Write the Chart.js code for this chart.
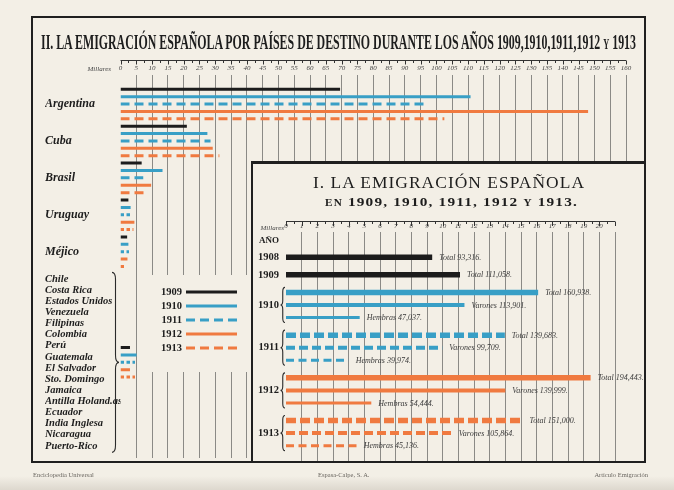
<!DOCTYPE html>
<html><head><meta charset="utf-8">
<script src="https://cdn.jsdelivr.net/npm/chart.js@4.4.1/dist/chart.umd.min.js"></script>
<style>
html,body{margin:0;padding:0;}
body{width:674px;height:490px;position:relative;overflow:hidden;
 background:linear-gradient(to bottom,#f3efe6 0px,#f3efe6 476px,#ddd8ce 490px);
 font-family:"Liberation Serif",serif;color:#1d1d1d;}
#main{position:absolute;left:0;top:0;}
#frame{position:absolute;left:31px;top:16px;width:615px;height:447px;border:2px solid #1f1f1f;box-sizing:border-box;pointer-events:none;}
#insetBox{position:absolute;left:251px;top:161px;width:395px;height:302px;background:#f3efe6;border-top:3px solid #1f1f1f;border-left:2px solid #1f1f1f;box-sizing:border-box;}
#inset{position:absolute;left:0;top:0;}
.t{position:absolute;white-space:nowrap;transform-origin:0 0;line-height:1;}
.foot{position:absolute;top:471px;font-size:6.5px;color:#6a6660;white-space:nowrap;}
</style></head>
<body>
<canvas id="main" width="674" height="490"></canvas>
<div id="t1" class="t" style="left:41px;top:32px;font-size:20px;font-weight:bold;">II. LA EMIGRACIÓN ESPAÑOLA POR PAÍSES DE DESTINO DURANTE LOS AÑOS 1909,1910,1911,1912 <span style="font-size:14px">Y</span> 1913</div>
<div id="insetBox">
 <canvas id="inset" width="391" height="298"></canvas>
 <div id="t2" class="t" style="left:60px;top:10px;font-size:17px;letter-spacing:1px;">I. LA EMIGRACIÓN ESPAÑOLA</div>
 <div id="t3" class="t" style="left:72px;top:31px;font-size:13px;font-weight:bold;letter-spacing:1px;"><span style="font-size:9.5px">EN</span> 1909, 1910, 1911, 1912 <span style="font-size:9.5px">Y</span> 1913.</div>
</div>
<div id="frame"></div>
<div class="foot" style="left:33px;">Enciclopedia Universal</div>
<div class="foot" style="left:318px;">Espasa-Calpe, S. A.</div>
<div class="foot" style="right:26px;">Artículo Emigración</div>
<script>
// ---------- DATA (main chart, thousands of emigrants) ----------
const countries = ['Argentina','Cuba','Brasil','Uruguay','Méjico','Otros'];
const otherCountries = ['Chile','Costa Rica','Estados Unidos','Venezuela','Filipinas','Colombia','Perú','Guatemala','El Salvador','Sto. Domingo','Jamaica','Antilla Holand.as','Ecuador','India Inglesa','Nicaragua','Puerto-Rico'];
const years = ['1909','1910','1911','1912','1913'];
const v1909 = [69.5, 21.0, 6.7, 2.5, 2.1, 3.0];
const v1910 = [110.8, 27.5, 13.3, 3.2, 2.5, 5.1];
const v1911 = [97.4, 28.5, 7.2, 3.5, 2.7, 4.6];
const v1912 = [148.0, 29.2, 9.7, 4.4, 2.2, 3.0];
const v1913 = [102.5, 31.3, 8.8, 4.1, 1.9, 4.6];
const mainTicks = [0,5,10,15,20,25,30,35,40,45,50,55,60,65,70,75,80,85,90,95,100,105,110,115,120,125,130,135,140,145,150,155,160];

// ---------- DATA (inset chart) ----------
const insetYears = ['1908','1909','1910','1911','1912','1913'];
const insetTotal   = [93316, 111058, 160938, 139683, 194443, 151000];
const insetVarones = [null, null, 113901, 99709, 139999, 105864];
const insetHembras = [null, null, 47037, 39974, 54444, 45136];
const insetTickLabels = ['0','1','2','3','4','5','6','7','8','9','10','11','12','13','14','15','16','17','18','19','20'];

// ---------- STYLE ----------
const PAPER = '#f3efe6', BLACK = '#1c1c1c', BLUE = '#389fc6', ORANGE = '#f07a40';
const yearStyle = [
  {c:BLACK, dash:false},{c:BLUE, dash:false},{c:BLUE, dash:true},{c:ORANGE, dash:false},{c:ORANGE, dash:true}
];
const SERIF = '"Liberation Serif", serif';
const series = [v1909, v1910, v1911, v1912, v1913];

function brace(ctx, x, y1, y2, dir, w){
  const ym = (y1+y2)/2, h = w*0.5;
  ctx.beginPath();
  ctx.moveTo(x, y1);
  ctx.quadraticCurveTo(x+dir*h, y1, x+dir*h, y1+w);
  ctx.lineTo(x+dir*h, ym-w);
  ctx.quadraticCurveTo(x+dir*h, ym, x+dir*w, ym);
  ctx.quadraticCurveTo(x+dir*h, ym, x+dir*h, ym+w);
  ctx.lineTo(x+dir*h, y2-w);
  ctx.quadraticCurveTo(x+dir*h, y2, x, y2);
  ctx.stroke();
}
function noPad(s){ s.paddingTop = 0; s.paddingBottom = 0; s.paddingLeft = 0; s.paddingRight = 0; }

// ---------- MAIN CHART ----------
const groupIndex = g => (g < 5 ? g : 7);   // layout: "others" block sits lower
const mainDatasets = [];
countries.forEach((name, g) => {
  series.forEach((vals, k) => {
    const slot = groupIndex(g)*5 + k;
    const st = yearStyle[k];
    mainDatasets.push({
      label: years[k] + ' ' + name,
      data: [{x:0, y:slot}, {x:vals[g], y:slot}],
      showLine: true, borderColor: st.c, borderWidth: 3,
      borderDash: st.dash ? (vals[g] < 6 ? [3.5,2.5] : [9,5]) : [],
      borderCapStyle: 'butt', pointRadius: 0, fill: false
    });
  });
});

const mainDeco = {
  id: 'mainDeco',
  beforeDatasetsDraw(chart){
    const ctx = chart.ctx;
    ctx.save(); ctx.fillStyle = PAPER; ctx.fillRect(146, 275, 106, 97); ctx.restore();
  },
  afterDraw(chart){
    const ctx = chart.ctx, xs = chart.scales.x, ys = chart.scales.y;
    ctx.save();
    const yR = 60.5;
    ctx.strokeStyle = '#333'; ctx.lineWidth = 1;
    ctx.beginPath();
    ctx.moveTo(xs.getPixelForValue(0), yR); ctx.lineTo(xs.getPixelForValue(160), yR);
    for (let v = 0; v <= 160; v += 2.5){
      const px = Math.round(xs.getPixelForValue(v)) + 0.5;
      ctx.moveTo(px, yR); ctx.lineTo(px, yR + (v % 5 === 0 ? 4 : 2.5));
    }
    ctx.stroke();
    ctx.fillStyle = '#444'; ctx.font = 'italic 7px ' + SERIF;
    ctx.textAlign = 'right'; ctx.textBaseline = 'middle';
    ctx.fillText('Millares', 111, 69);
    // legend
    const ly = [292, 306, 320, 334, 348];
    years.forEach((yr, k) => {
      const st = yearStyle[k];
      ctx.fillStyle = '#1d1d1d'; ctx.font = 'bold 10.5px ' + SERIF;
      ctx.textAlign = 'right'; ctx.textBaseline = 'middle';
      ctx.fillText(yr, 182, ly[k] + 0.5);
      ctx.strokeStyle = st.c; ctx.lineWidth = 3.2;
      ctx.setLineDash(st.dash ? [9,5] : []);
      ctx.beginPath(); ctx.moveTo(186, ly[k]); ctx.lineTo(237, ly[k]); ctx.stroke();
    });
    ctx.setLineDash([]);
    const yc = ys.getPixelForValue(37);
    ctx.strokeStyle = '#2a2a2a'; ctx.lineWidth = 1.1;
    brace(ctx, 112, yc - 90, yc + 90, 1, 7);
    ctx.restore();
  }
};

new Chart(document.getElementById('main'), {
  type: 'scatter',
  data: { datasets: mainDatasets },
  options: {
    responsive: false, animation: false, devicePixelRatio: 1,
    layout: { padding: {left: 45, top: 59, right: 48, bottom: 32}, autoPadding: false },
    plugins: { legend: {display: false}, tooltip: {enabled: false} },
    scales: {
      x: {
        type: 'linear', position: 'top', min: 0, max: 160,
        afterBuildTicks: s => { s.ticks = mainTicks.map(v => ({value: v})); },
        afterFit: s => { s.height = 16; noPad(s); },
        ticks: { autoSkip: false, maxRotation: 0, padding: 3, color: '#444',
                 font: {family: SERIF, style: 'italic', size: 7} },
        grid: { drawTicks: false, lineWidth: 1,
                color: c => (c.tick && c.tick.value === 0) ? 'rgba(0,0,0,0)' : 'rgba(70,70,70,0.6)' },
        border: { display: false }
      },
      y: {
        type: 'linear', reverse: true, min: -1.94, max: 49.96,
        afterBuildTicks: s => { s.ticks = countries.map((c, g) => ({value: groupIndex(g)*5 + 2})); },
        afterFit: s => { s.width = 75.5; noPad(s); },
        ticks: {
          autoSkip: false, crossAlign: 'far', color: '#1d1d1d',
          callback: v => { const g = [0,1,2,3,4,7].indexOf(Math.round((v-2)/5)); return g === 5 ? otherCountries : countries[g]; },
          font: c => (c.tick && c.tick.value === 37)
             ? {family: SERIF, style: 'italic', weight: 'bold', size: 10.5, lineHeight: 1.06}
             : {family: SERIF, style: 'italic', weight: 'bold', size: 12}
        },
        grid: { display: false, drawTicks: false }, border: { display: false }
      }
    }
  },
  plugins: [mainDeco]
});

// ---------- INSET CHART ----------
const rowBase = i => (i < 2 ? i*1.4 : 2.8 + (i-2)*3.4);
const insetStyle = [
  {c:BLACK, dash:false},{c:BLACK, dash:false},{c:BLUE, dash:false},{c:BLUE, dash:true},{c:ORANGE, dash:false},{c:ORANGE, dash:true}
];
const fmt = n => n.toLocaleString('en-US') + '.';
const insetDatasets = [];
insetYears.forEach((yr, i) => {
  const st = insetStyle[i];
  const rows = [['Total', insetTotal[i], 5.5, [10,4]], ['Varones', insetVarones[i], 4, [9,4]], ['Hembras', insetHembras[i], 3, [8,4.5]]];
  rows.forEach((r, j) => {
    if (r[1] == null) return;
    const slot = rowBase(i) + j;
    insetDatasets.push({
      label: yr + ' ' + r[0], txt: r[0] + ' ' + fmt(r[1]),
      data: [{x:0, y:slot}, {x:r[1]/10000, y:slot}],
      showLine: true, borderColor: st.c, borderWidth: r[2],
      borderDash: st.dash ? r[3] : [], borderCapStyle: 'butt', pointRadius: 0, fill: false
    });
  });
});
const insetTickPos = [-1.3].concat(insetYears.map((y, i) => i < 2 ? rowBase(i) : rowBase(i) + 1));
const insetTickText = ['AÑO'].concat(insetYears);

const insetDeco = {
  id: 'insetDeco',
  afterDraw(chart){
    const ctx = chart.ctx, xs = chart.scales.x, ys = chart.scales.y;
    ctx.save();
    const yR = 57.5;
    ctx.strokeStyle = '#333'; ctx.lineWidth = 1;
    ctx.beginPath();
    ctx.moveTo(xs.getPixelForValue(0), yR); ctx.lineTo(xs.getPixelForValue(21), yR);
    for (let v = 0; v <= 21.001; v += 0.5){
      const px = Math.round(xs.getPixelForValue(v)) + 0.5;
      ctx.moveTo(px, yR); ctx.lineTo(px, yR + (Math.abs(v - Math.round(v)) < 0.01 ? 4.5 : 2.5));
    }
    ctx.stroke();
    ctx.fillStyle = '#444'; ctx.font = 'italic 7px ' + SERIF;
    ctx.textAlign = 'right'; ctx.textBaseline = 'middle';
    ctx.fillText('Millares', 31, 64);
    ctx.fillStyle = '#3a3a3a'; ctx.font = 'italic 8px ' + SERIF; ctx.textAlign = 'left';
    chart.data.datasets.forEach((ds, i) => {
      const p = chart.getDatasetMeta(i).data[1];
      ctx.fillText(ds.txt, p.x + 7, p.y + 0.5);
    });
    ctx.strokeStyle = '#2a2a2a'; ctx.lineWidth = 1.1;
    for (let i = 2; i < insetYears.length; i++){
      const y1 = ys.getPixelForValue(rowBase(i)) - 5, y2 = ys.getPixelForValue(rowBase(i) + 2) + 5;
      brace(ctx, 32, y1, y2, -1, 4.5);
    }
    ctx.restore();
  }
};

new Chart(document.getElementById('inset'), {
  type: 'scatter',
  data: { datasets: insetDatasets },
  options: {
    responsive: false, animation: false, devicePixelRatio: 1,
    layout: { padding: {left: 0, top: 56, right: 29, bottom: 0}, autoPadding: false },
    plugins: { legend: {display: false}, tooltip: {enabled: false} },
    scales: {
      x: {
        type: 'linear', position: 'top', min: 0, max: 21,
        afterBuildTicks: s => { s.ticks = insetTickLabels.concat(['']).map((t, i) => ({value: i})); },
        afterFit: s => { s.height = 12; noPad(s); },
        ticks: { autoSkip: false, maxRotation: 0, padding: 2, color: '#444',
                 callback: v => insetTickLabels[v] || '',
                 font: {family: SERIF, style: 'italic', size: 7} },
        grid: { drawTicks: false, lineWidth: 1,
                color: c => (c.tick && c.tick.value === 0) ? 'rgba(0,0,0,0)' : 'rgba(70,70,70,0.6)' },
        border: { display: false }
      },
      y: {
        type: 'linear', reverse: true, min: -2.01, max: 16.3,
        afterBuildTicks: s => { s.ticks = insetTickPos.map(v => ({value: v})); },
        afterFit: s => { s.width = 33; noPad(s); },
        ticks: { autoSkip: false, padding: 7, color: '#1d1d1d',
                 callback: (v) => insetTickText[insetTickPos.indexOf(v)],
                 font: c => ({family: SERIF, weight: 'bold', size: (c.index === 0 ? 9 : 10.5)}) },
        grid: { display: false, drawTicks: false }, border: { display: false }
      }
    }
  },
  plugins: [insetDeco]
});

function fit(id, w){ const el = document.getElementById(id); const nat = el.getBoundingClientRect().width; el.style.transform = 'scaleX(' + (w / nat) + ')'; }
function fitAll(){ fit('t1', 595); fit('t2', 272); fit('t3', 253); }
fitAll();
if (document.fonts && document.fonts.ready) document.fonts.ready.then(() => { ['t1','t2','t3'].forEach(id => document.getElementById(id).style.transform = ''); fitAll(); });
</script>
</body></html>
